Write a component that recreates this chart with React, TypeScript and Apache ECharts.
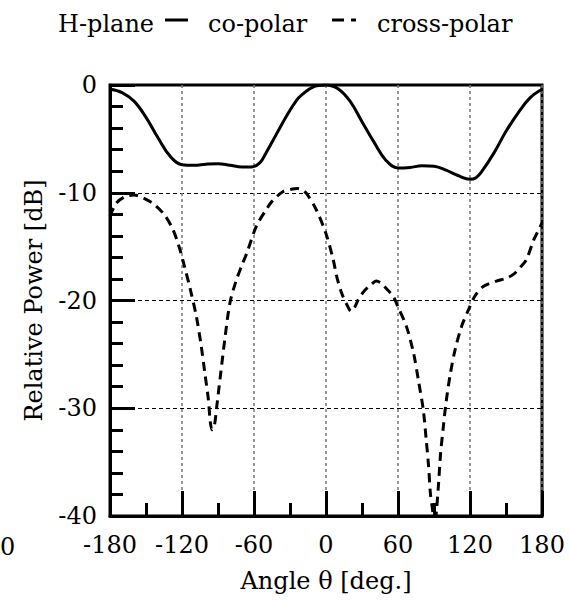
import React, { useEffect, useRef } from "react";
import * as echarts from "echarts";

// Co-polar pattern (angle in degrees, relative power in dB)
const coAngles = [-180, -170, -160, -150, -140, -130, -120, -110, -100, -90, -80, -70, -62, -55, -50, -44, -40, -33, -25, -20, -10, 0, 10, 20, 30, 40, 50, 60, 70, 80, 90, 100, 110, 120, 125, 130, 140, 150, 160, 170, 180];
const coValues = [-0.4, -0.7, -1.5, -3.0, -4.9, -6.6, -7.4, -7.45, -7.35, -7.3, -7.45, -7.6, -7.6, -7.2, -6.3, -5.1, -4.3, -2.9, -1.5, -0.9, -0.15, 0, -0.35, -1.5, -3.4, -5.3, -7.0, -7.7, -7.65, -7.5, -7.55, -7.9, -8.4, -8.75, -8.6, -8.0, -6.3, -4.3, -2.6, -1.2, -0.4];

// Cross-polar pattern
const crossAngles = [-180, -175, -168, -160, -152, -143, -135, -128, -123, -118, -113, -108, -104, -101, -98, -96.5, -95, -93, -91, -88, -84, -80, -75, -70, -66, -58, -50, -45, -36, -28, -24, -20, -16, -8, 0, 6, 9, 13, 17, 21, 24, 27, 32, 37, 42, 46, 52, 56, 60, 67, 73, 77, 81, 83.5, 85.5, 87, 89, 90.5, 92, 93.6, 95.5, 97.8, 100, 103.3, 107.5, 113, 118.6, 124, 131, 142, 151, 157, 162, 167, 173, 177, 180];
const crossValues = [-12.2, -11.0, -10.4, -10.2, -10.5, -11.1, -12.0, -13.3, -14.8, -16.8, -19.0, -21.5, -24.2, -26.7, -29.2, -31.2, -32.0, -31.6, -29.8, -27.0, -23.3, -20.2, -18.2, -16.7, -15.6, -13.1, -11.6, -10.8, -9.9, -9.65, -9.6, -9.75, -10.1, -11.6, -13.8, -16.2, -17.8, -19.3, -20.3, -21.0, -20.6, -19.9, -19.1, -18.6, -18.2, -18.4, -19.1, -19.6, -20.6, -22.4, -24.9, -27.4, -30.1, -32.9, -35.4, -37.9, -39.6, -41.0, -39.6, -37.3, -34.2, -31.7, -29.5, -27.0, -24.6, -22.4, -20.9, -19.6, -18.7, -18.2, -17.9, -17.5, -16.9, -16.2, -14.4, -13.5, -12.8];

const seriesNames = ["co-polar", "cross-polar"];
const legendTitle = "H-plane";
const xAxisName = "Angle θ [deg.]";
const yAxisName = "Relative Power [dB]";

const FAMILY = "DejaVu Serif";
const FS = 24;

export default function App() {
  const ref = useRef<HTMLDivElement>(null);
  useEffect(() => {
    if (!ref.current) return;
    const chart = echarts.init(ref.current, undefined, { renderer: "svg" });
    const coData = coAngles.map((a, i) => [a, coValues[i]]);
    const crossData = crossAngles.map((a, i) => [a, crossValues[i]]);
    const txt = (text: string, x: number, y: number) => ({
      type: "text",
      x,
      y,
      style: { text, fontSize: FS, fontFamily: FAMILY, fill: "#000", verticalAlign: "middle" },
    });
    chart.setOption({
      animation: false,
      grid: {
        left: 110,
        right: 28,
        top: 85,
        bottom: 87,
        show: true,
        borderColor: "#000",
        borderWidth: 3,
        backgroundColor: "transparent",
      },
      graphic: [
        txt(legendTitle, 58, 24),
        {
          type: "line",
          shape: { x1: 165, y1: 20, x2: 188, y2: 20 },
          style: { stroke: "#000", lineWidth: 3 },
        },
        txt(seriesNames[0], 208, 24),
        {
          type: "line",
          shape: { x1: 332, y1: 20, x2: 356, y2: 20 },
          style: { stroke: "#000", lineWidth: 3, lineDash: [12, 7] },
        },
        txt(seriesNames[1], 377, 24),
        txt("0", 0, 547),
      ],
      xAxis: {
        type: "value",
        min: -180,
        max: 180,
        interval: 60,
        name: xAxisName,
        nameLocation: "middle",
        nameGap: 53,
        nameTextStyle: { fontSize: FS, color: "#000", fontFamily: FAMILY },
        axisLine: { show: true, onZero: false, lineStyle: { color: "#000", width: 3 } },
        axisTick: { show: true, inside: true, length: 25, lineStyle: { color: "#000", width: 3 } },
        minorTick: { show: true, splitNumber: 2, length: 13, lineStyle: { color: "#000", width: 3 } },
        splitLine: { show: true, lineStyle: { color: "#777", width: 1.5, type: [3, 3] } },
        axisLabel: { fontSize: FS, color: "#000", margin: 17, fontFamily: FAMILY },
      },
      yAxis: {
        type: "value",
        min: -40,
        max: 0,
        interval: 10,
        name: yAxisName,
        nameLocation: "middle",
        nameGap: 64,
        nameTextStyle: { fontSize: FS, color: "#000", fontFamily: FAMILY },
        axisLine: { show: true, onZero: false, lineStyle: { color: "#000", width: 3 } },
        axisTick: { show: true, inside: true, length: 25, lineStyle: { color: "#000", width: 3 } },
        minorTick: { show: true, splitNumber: 5, length: 13, lineStyle: { color: "#000", width: 3 } },
        splitLine: { show: true, lineStyle: { color: "#000", width: 1, type: [4, 3] } },
        axisLabel: { fontSize: FS, color: "#000", margin: 13, fontFamily: FAMILY },
      },
      series: [
        {
          name: seriesNames[0],
          type: "line",
          data: coData,
          smooth: 0.4,
          showSymbol: false,
          symbol: "none",
          clip: true,
          lineStyle: { color: "#000", width: 3, type: "solid" },
          z: 5,
        },
        {
          name: seriesNames[1],
          type: "line",
          data: crossData,
          smooth: 0.3,
          showSymbol: false,
          symbol: "none",
          clip: true,
          lineStyle: { color: "#000", width: 3, type: [9, 6] },
          z: 5,
        },
      ],
    });
    return () => chart.dispose();
  }, []);
  return <div ref={ref} style={{ width: 570, height: 603, position: "absolute", left: 0, top: 0 }} />;
}
